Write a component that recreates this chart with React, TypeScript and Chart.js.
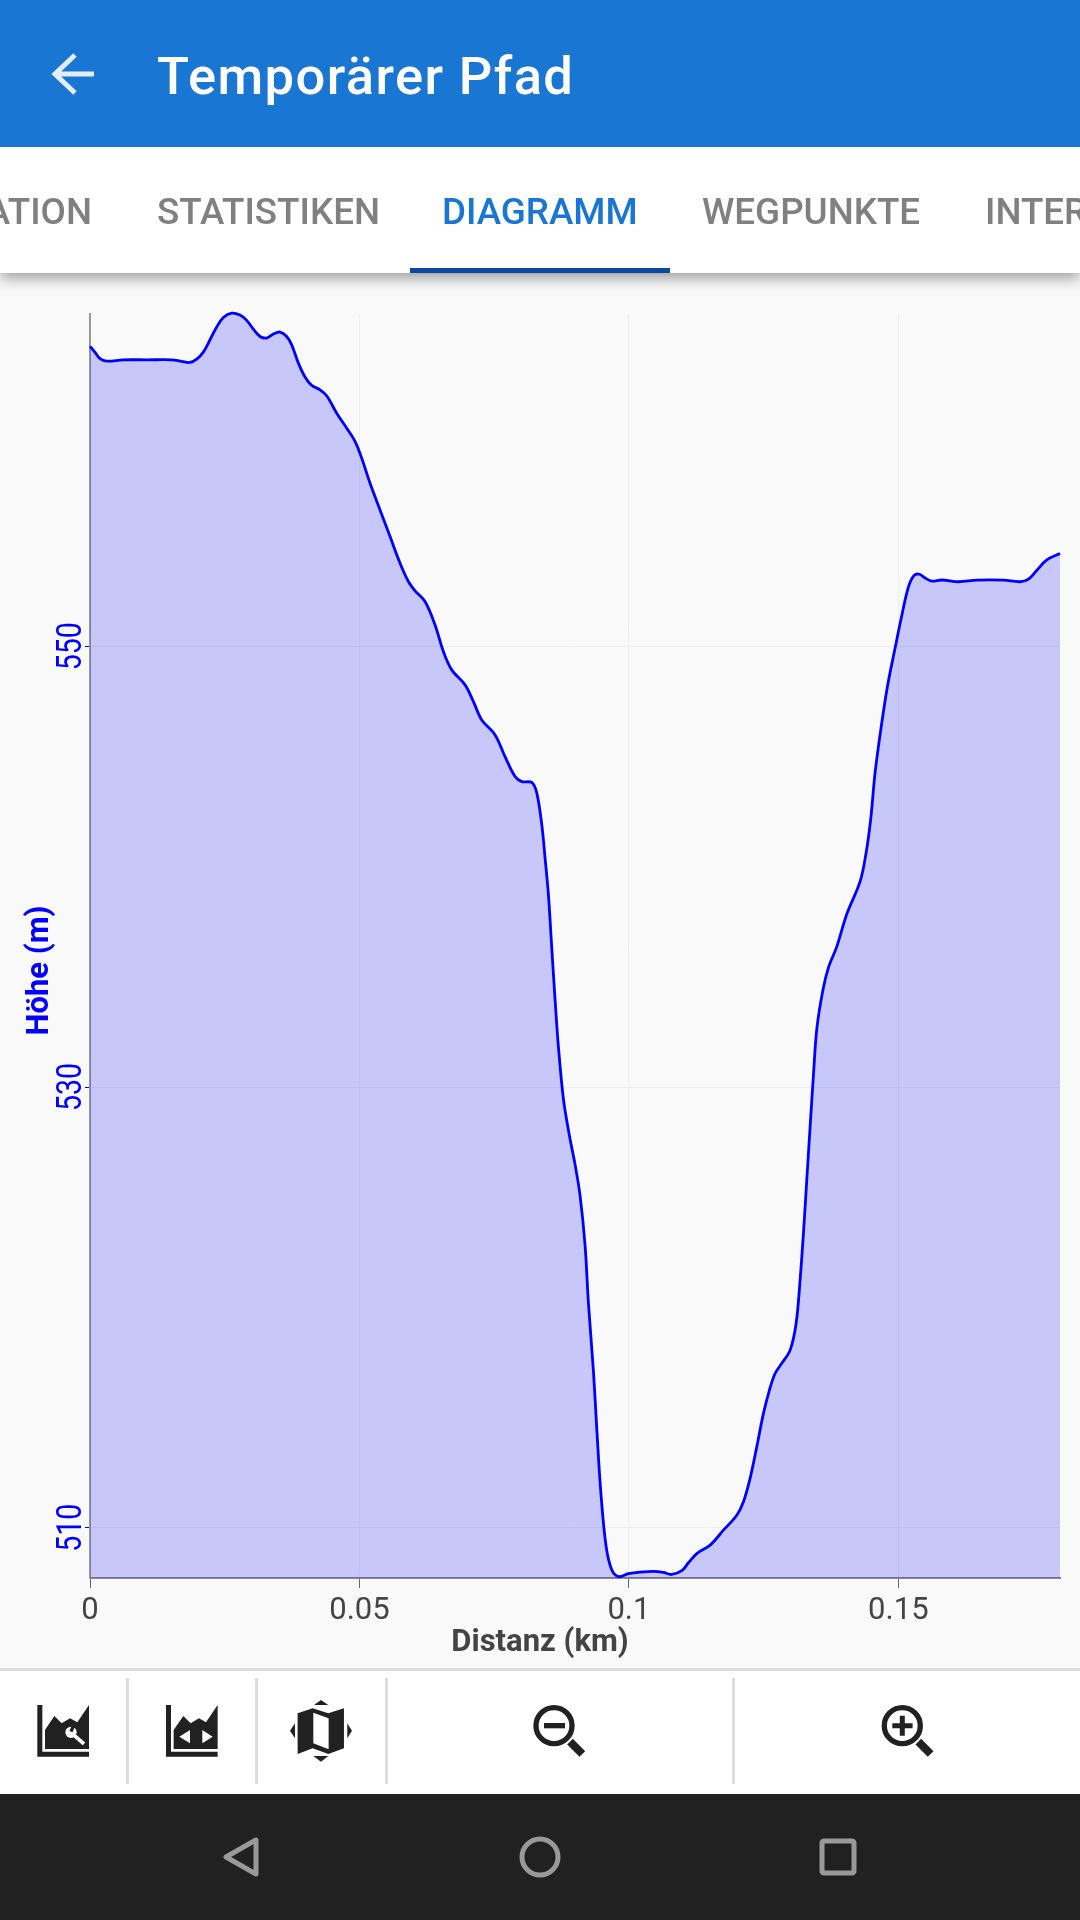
import React, { useEffect, useRef } from "react";
import { Chart, registerables } from "chart.js";

Chart.register(...registerables);

const distanceKm = [
  0, 0.00093, 0.00186, 0.00309, 0.00619, 0.01052, 0.01516, 0.01701, 0.01856, 0.0198,
  0.02103, 0.02227, 0.02351, 0.02475, 0.02629, 0.02784, 0.02908, 0.03031, 0.03155, 0.03279,
  0.03403, 0.03526, 0.0365, 0.03743, 0.03867, 0.0399, 0.04114, 0.04269, 0.04392, 0.04578,
  0.04764, 0.04918, 0.05042, 0.05197, 0.05382, 0.05568, 0.05754, 0.05908, 0.06032, 0.06217,
  0.06403, 0.06558, 0.06712, 0.0696, 0.07115, 0.07269, 0.07517, 0.07702, 0.07888, 0.08012,
  0.08197, 0.0829, 0.08383, 0.08445, 0.08507, 0.08568, 0.0863, 0.08692, 0.08785, 0.08896,
  0.09001, 0.09094, 0.09187, 0.09249, 0.09342, 0.09404, 0.09478, 0.09577, 0.09682, 0.09806,
  0.09991, 0.10146, 0.10455, 0.10641, 0.10796, 0.10981, 0.11105, 0.1126, 0.11507, 0.11754,
  0.12002, 0.12126, 0.12249, 0.12373, 0.12497, 0.12608, 0.12713, 0.12837, 0.12992, 0.13103,
  0.13177, 0.13239, 0.13301, 0.13363, 0.13425, 0.13487, 0.13598, 0.13703, 0.13858, 0.14044,
  0.14291, 0.14402, 0.14489, 0.14569, 0.14693, 0.14798, 0.1494, 0.15064, 0.15188, 0.15293,
  0.15392, 0.15497, 0.15621, 0.15807, 0.16116, 0.16456, 0.16951, 0.1726, 0.17415, 0.1757,
  0.17755, 0.18,
];

const elevationM = [
  563.61, 563.34, 563.05, 562.94, 563.0, 563.0, 563.0, 562.93, 562.88, 563.03,
  563.35, 563.91, 564.49, 564.92, 565.12, 565.03, 564.79, 564.39, 564.06, 563.99,
  564.17, 564.26, 564.06, 563.68, 562.85, 562.22, 561.84, 561.64, 561.37, 560.58,
  559.9, 559.3, 558.54, 557.4, 556.19, 554.98, 553.77, 552.94, 552.52, 552.03,
  550.97, 549.76, 548.93, 548.25, 547.49, 546.66, 545.98, 544.99, 544.09, 543.86,
  543.82, 543.35, 541.92, 540.38, 538.72, 536.34, 533.97, 531.83, 529.46, 527.8,
  526.49, 525.07, 522.81, 520.2, 517.11, 514.5, 511.65, 509.16, 508.09, 507.78,
  507.92, 507.97, 508.02, 507.97, 507.88, 508.05, 508.41, 508.83, 509.21, 509.89,
  510.57, 511.18, 512.24, 513.67, 515.19, 516.25, 517.0, 517.46, 518.06, 519.27,
  521.24, 523.36, 525.78, 528.2, 530.55, 532.64, 534.37, 535.42, 536.37, 537.85,
  539.33, 540.63, 542.19, 544.28, 546.53, 548.18, 549.92, 551.4, 552.7, 553.22,
  553.27, 553.1, 552.96, 553.01, 552.93, 553.0, 553.0, 552.93, 553.05, 553.45,
  553.92, 554.21,
];

const xTickValues = [0, 0.05, 0.1, 0.15];
const yTickValues = [510, 530, 550];
const xRange = [0, 0.18];
const yRange = [507.72, 565.08];
const xAxisTitle = "Distanz (km)";
const yAxisTitle = "Höhe (m)";
const screenTitle = "Temporärer Pfad";
const tabLabels = ["ATION", "STATISTIKEN", "DIAGRAMM", "WEGPUNKTE", "INTER"];

const shiftTitles = {
  id: "shiftTitles",
  beforeDraw(chart: any) {
    const patch = (scale: any, dx: number, dy: number) => {
      if (scale._patched) return;
      scale._patched = true;
      const original = scale.drawTitle;
      scale.drawTitle = function (...args: any[]) {
        const ctx = this.ctx;
        ctx.save();
        ctx.translate(dx, dy);
        original.apply(this, args);
        ctx.restore();
      };
    };
    patch(chart.scales.x, 540 - (chart.chartArea.left + chart.chartArea.right) / 2, 0);
    patch(chart.scales.y, 0, chart.height / 2 - (chart.chartArea.top + chart.chartArea.bottom) / 2);
    const y = chart.scales.y;
    if (!y._labelsPatched) {
      y._labelsPatched = true;
      const drawLabels = y.drawLabels;
      y.drawLabels = function (...args: any[]) {
        const ctx = this.ctx;
        ctx.save();
        ctx.translate(67.5, 0);
        ctx.scale(1.2, 1);
        ctx.translate(-67.5, 0);
        drawLabels.apply(this, args);
        ctx.restore();
      };
    }
  },
};

function ChartPanel() {
  const ref = useRef<HTMLCanvasElement | null>(null);
  useEffect(() => {
    if (!ref.current) return;
    const chart = new Chart(ref.current, {
      type: "line",
      data: {
        datasets: [
          {
            label: yAxisTitle,
            data: distanceKm.map((x, i) => ({ x, y: elevationM[i] })),
            borderColor: "#0000FF",
            borderWidth: 2.8,
            backgroundColor: "rgba(0,0,255,0.2)",
            fill: "origin",
            pointRadius: 0,
            tension: 0.35,
            clip: false,
          },
        ],
      },
      options: {
        responsive: false,
        animation: false,
        devicePixelRatio: 1,
        layout: { padding: { top: 41, right: 20, left: 0, bottom: 0 } },
        plugins: { legend: { display: false }, tooltip: { enabled: false } },
        scales: {
          x: {
            type: "linear",
            min: xRange[0],
            max: xRange[1],
            afterBuildTicks: (s: any) => {
              s.ticks = xTickValues.map((value) => ({ value }));
            },
            afterFit: (s: any) => {
              s.height = 90;
            },
            grid: { color: "#EEEEEE", lineWidth: 1, tickColor: "#666666", tickLength: 10 },
            border: { color: "#8A8A8A", width: 2 },
            ticks: {
              color: "#444444",
              font: { family: "Roboto", size: 31 },
              padding: 5,
              maxRotation: 0,
              autoSkip: false,
              callback: (v: any) => String(v),
            },
            title: {
              display: true,
              text: xAxisTitle,
              color: "#444444",
              font: { family: "Roboto", size: 31, weight: "bold" },
              padding: { top: 0, bottom: 6 },
            },
          },
          y: {
            type: "linear",
            min: yRange[0],
            max: yRange[1],
            afterBuildTicks: (s: any) => {
              s.ticks = yTickValues.map((value) => ({ value }));
            },
            afterFit: (s: any) => {
              s.width = 90;
            },
            grid: { color: "#EEEEEE", lineWidth: 1, tickColor: "#0000FF", tickLength: 5 },
            border: { color: "#999999", width: 2 },
            ticks: {
              color: "#0000FF",
              font: { family: "Roboto", size: 28.5 },
              minRotation: 90,
              maxRotation: 90,
              crossAlign: "center",
              padding: -11,
              autoSkip: false,
              callback: (v: any) => String(v),
            },
            title: {
              display: true,
              text: yAxisTitle,
              color: "#0000FF",
              font: { family: "Roboto", size: 31, weight: "bold" },
              padding: { top: 22, bottom: 0 },
            },
          },
        },
      },
      plugins: [shiftTitles],
    } as any);
    return () => chart.destroy();
  }, []);
  return (
    <canvas
      ref={ref}
      width={1080}
      height={1395}
      style={{ position: "absolute", left: 0, top: 273, width: 1080, height: 1395, display: "block" }}
    />
  );
}

const tabStyle = (color: string): React.CSSProperties => ({
  position: "absolute",
  top: 190,
  fontSize: 36.75,
  lineHeight: "44px",
  fontWeight: 500,
  color,
  whiteSpace: "nowrap",
});

export default function App() {
  useEffect(() => {
    document.body.style.margin = "0";
  }, []);
  return (
    <div
      style={{
        position: "absolute",
        left: 0,
        top: 0,
        width: 1080,
        height: 1920,
        overflow: "hidden",
        background: "#F9F9F9",
        fontFamily: "Roboto",
      }}
    >
      <ChartPanel />
      <div style={{ position: "absolute", left: 0, top: 147, width: 1080, height: 126, background: "#FFFFFF", boxShadow: "0 5px 14px rgba(0,0,0,0.38)" }} />
      <div style={{ position: "absolute", left: 0, top: 0, width: 1080, height: 147, background: "#1976D2" }} />
      <div style={{ position: "absolute", left: 157, top: 46, fontSize: 52.5, letterSpacing: 1.4, lineHeight: "60px", fontWeight: 500, color: "#FFFFFF", whiteSpace: "nowrap" }}>
        {screenTitle}
      </div>
      <div style={{ ...tabStyle("#808080"), right: 988 }}>{tabLabels[0]}</div>
      <div style={{ ...tabStyle("#808080"), left: 157 }}>{tabLabels[1]}</div>
      <div style={{ ...tabStyle("#1976D2"), left: 442 }}>{tabLabels[2]}</div>
      <div style={{ ...tabStyle("#808080"), left: 702 }}>{tabLabels[3]}</div>
      <div style={{ ...tabStyle("#808080"), left: 985 }}>{tabLabels[4]}</div>
      <div style={{ position: "absolute", left: 410, top: 268, width: 260, height: 5, background: "#0D47A1" }} />
      <div style={{ position: "absolute", left: 0, top: 1668, width: 1080, height: 3, background: "#DDDDDD" }} />
      <div style={{ position: "absolute", left: 0, top: 1671, width: 1080, height: 123, background: "#FFFFFF" }} />
      <div style={{ position: "absolute", left: 0, top: 1794, width: 1080, height: 126, background: "#212121" }} />
      <svg width={1080} height={1920} viewBox="0 0 1080 1920" style={{ position: "absolute", left: 0, top: 0 }}>
        <path d="M94 74H57M75 55L55 74L75 93" fill="none" stroke="#E3EEFA" strokeWidth={5} />
        {[126, 255, 385, 732].map((x) => (
          <rect key={x} x={x} y={1678} width={3} height={106} fill="#DDDDDD" />
        ))}
        <g transform="translate(20,1690) scale(0.3333)" fill="#212121">
          <path d="M52 45H67V185H207V200H52Z" />
          <path d="M75 177V120L103 78L125 100L150 85L172 97L207 45V177Z" />
          <circle cx={153} cy={127} r={17} fill="#FFFFFF" />
          <path d="M160 134L192 162" stroke="#FFFFFF" strokeWidth={11} fill="none" />
          <path d="M153 125L160 108" stroke="#212121" strokeWidth={10} fill="none" />
          <path d="M438 45H453V185H593V200H438Z" />
          <path d="M461 177V120L490 78L512 100L537 85L558 97L593 45V177Z" />
          <path d="M510 120V160L478 140Z M547 120V160L578 140Z" fill="#FFFFFF" />
          <path d="M833 70L878 55L925 70L972 55V175L925 192L878 175L833 192Z" />
          <path d="M880 68L926 85V178L880 160Z" fill="#FFFFFF" />
          <path d="M903 30L925 45H882Z M880 198H925L903 215Z M825 100V145L810 122Z M982 100V145L996 122Z" />
        </g>
        <g transform="translate(520,1695) scale(0.3333)" fill="none" stroke="#212121">
          <circle cx={102} cy={92} r={54} strokeWidth={16} />
          <path d="M150 140L187 177" strokeWidth={24} />
          <path d="M72 92H135" strokeWidth={16} />
          <circle cx={1147} cy={92} r={54} strokeWidth={16} />
          <path d="M1195 140L1232 177" strokeWidth={24} />
          <path d="M1117 92H1178M1147 62V122" strokeWidth={15} />
        </g>
        <g fill="none" stroke="#999999" strokeWidth={5}>
          <path d="M256 1840V1874L226 1857Z" strokeLinejoin="round" />
          <circle cx={540} cy={1857} r={18} />
          <rect x={822} y={1841} width={32} height={32} rx={2} />
        </g>
      </svg>
    </div>
  );
}
